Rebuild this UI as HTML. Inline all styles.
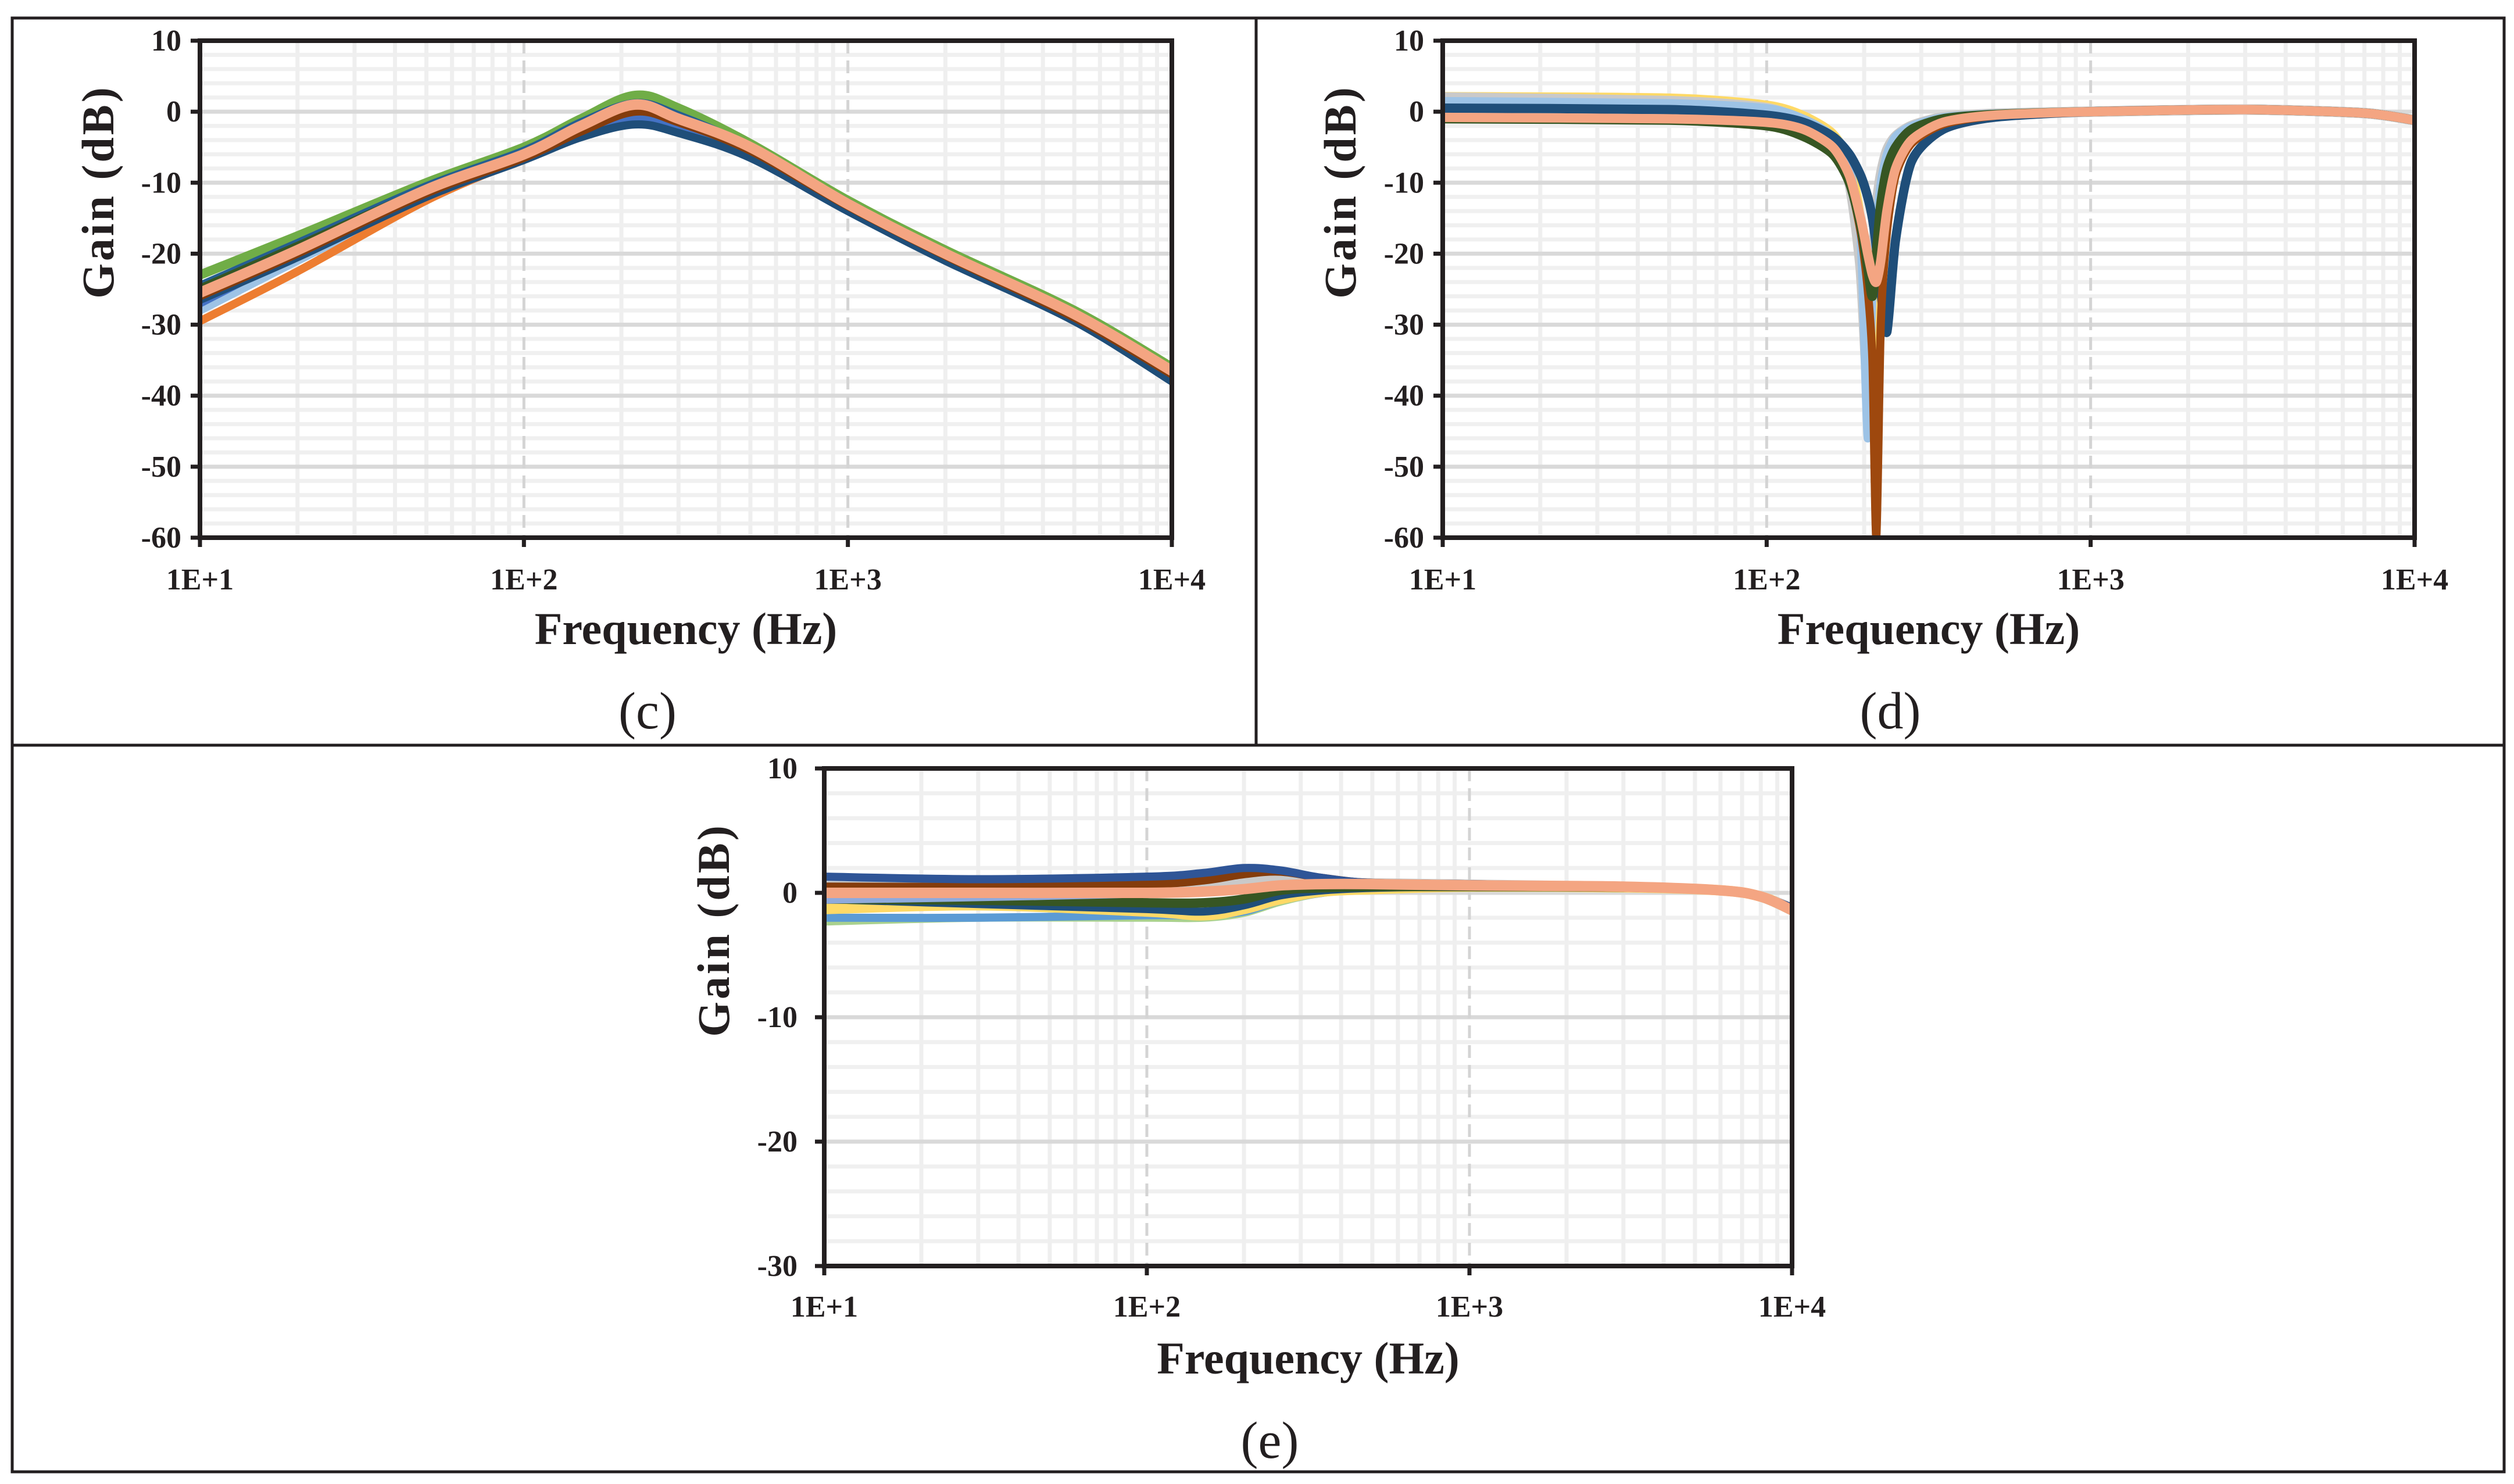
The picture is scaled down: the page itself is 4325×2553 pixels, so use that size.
<!DOCTYPE html>
<html><head><meta charset="utf-8">
<style>
html,body{margin:0;padding:0;background:#fff;}
svg{display:block;}
text{font-family:"Liberation Serif",serif;fill:#231f20;}
.tick{font-weight:bold;font-size:52px;}
.title{font-weight:bold;font-size:78px;}
.panel{font-size:90px;}
</style></head>
<body>
<svg id="fig" width="4325" height="2553" viewBox="0 0 4325 2553" xmlns="http://www.w3.org/2000/svg">
<g fill="none" stroke="#231f20" stroke-width="5">
<rect x="21" y="31" width="4287" height="2501"/>
<line x1="2161" y1="31" x2="2161" y2="1282"/>
<line x1="21" y1="1282" x2="4308" y2="1282"/>
</g>
</svg>
<script>
// ---- data: panel (c) ----
const fC = [10,20,50,100,150,220,300,500,1000,2000,5000,10000];
const cGreen  = [-23,-17.5,-10,-5,-1,2.3,0.5,-4.5,-12.5,-19.5,-28,-36];
const cNavy   = [-24.5,-18.5,-10.5,-5.5,-1.5,1.2,-0.5,-5,-12.8,-20,-28.5,-36.5];
const cBlue   = [-27,-20,-11.5,-6.3,-2.8,-0.8,-2,-5.8,-13.5,-20.5,-29,-37];
const cNavyLo = [-26.5,-20.5,-12,-6.8,-3.6,-1.8,-3,-6.5,-14,-21,-29.5,-38];
const cOrange = [-29.5,-22.5,-12.5,-6.5,-2.5,0.8,-1,-5.2,-13,-20,-28.7,-36.8];
const cLtBlue = [-28,-21,-12,-6.5,-3,0,-1.5,-5.5,-13.2,-20.2,-28.8,-37];
const cBrown  = [-26,-20,-11.5,-6.5,-2.8,0,-1.5,-5.5,-13.3,-20.3,-29,-37];
const cSalmon = [-25.5,-19.5,-11,-6,-2,1,-1,-5,-13,-20,-28.5,-36.5];
// ---- data: panel (d) ----
const fD = [10,50,100,130,160,180,195,205,212,218,225,235,250,280,350,500,1000,3000,7000,10000];
const dGray   = [2,1.5,0.5,-1.5,-5,-10,-22,-38,-22,-14,-9,-5.5,-3.5,-2,-0.8,-0.3,0,0.3,-0.2,-1.2];
const dYellow = [2.2,2,1,-0.5,-3,-7,-15,-30,-40,-22,-12,-7,-4,-2,-0.8,-0.3,0,0.3,-0.2,-1.2];
const dLtBlue = [1.5,1.2,0.5,-1,-3.5,-8,-18,-46,-25,-16,-10,-6,-3.5,-2,-0.8,-0.3,0,0.3,-0.2,-1.2];
const dNavy   = [0.5,0.3,-0.5,-1.5,-3.5,-6,-9,-12,-15,-19,-25,-31,-18,-7,-2.5,-0.8,0,0.3,-0.2,-1.2];
const dBrown  = [-1,-1.2,-2,-3,-6,-10,-17,-25,-35,-60,-30,-17,-9,-4.5,-1.8,-0.6,0,0.3,-0.2,-1.2];
const dGreen  = [-1,-1.2,-2,-3.5,-6,-10,-16,-22,-26,-20,-13,-8,-5,-2.5,-1,-0.4,0,0.3,-0.2,-1.2];
const dOrange = [-0.8,-1,-1.5,-2.5,-5,-9,-15,-20,-23,-24,-21,-14,-8,-4,-1.5,-0.5,0,0.3,-0.2,-1.2];
// ---- data: panel (e) ----
const fE = [10,30,100,150,200,260,350,500,1000,3000,6000,8000,10000];
const eGreenLt = [-2.3,-2,-2,-2,-1.6,-0.7,0,0.3,0.5,0.45,0.2,-0.4,-1.5];
const eBlue    = [-2,-2,-1.8,-1.8,-1.5,-0.6,0,0.3,0.5,0.45,0.2,-0.3,-1.3];
const eYellow  = [-1.3,-1,-1.5,-1.8,-1.3,-0.5,0.1,0.3,0.5,0.45,0.2,-0.3,-1.3];
const eNavy2   = [-0.5,-0.9,-1.3,-1.5,-1,-0.2,0.2,0.4,0.5,0.45,0.2,-0.3,-1.3];
const eGreen   = [-0.5,-0.6,-0.8,-0.8,-0.5,0.2,0.4,0.5,0.5,0.45,0.2,-0.3,-1.3];
const eLtBlue  = [-0.5,-0.3,0,0.3,0.8,1.2,0.9,0.7,0.6,0.5,0.2,-0.3,-1.2];
const eGray    = [0.8,0.7,0.7,0.8,1,1.1,0.9,0.8,0.7,0.5,0.2,-0.3,-1.2];
const eBrown   = [0.5,0.5,0.7,1,1.5,1.7,1.2,0.8,0.7,0.5,0.2,-0.3,-1.2];
const eNavy    = [1.3,1.1,1.3,1.6,2,1.8,1.2,0.8,0.7,0.5,0.2,-0.3,-1.2];
const eOrange  = [0,0,0,0.1,0.3,0.6,0.7,0.7,0.6,0.5,0.2,-0.3,-1.4];
const xTickLabels = ["1E+1","1E+2","1E+3","1E+4"];

const NS="http://www.w3.org/2000/svg";
const fig=document.getElementById('fig');
function mk(tag,attrs,parent){const e=document.createElementNS(NS,tag);for(const k in attrs)e.setAttribute(k,attrs[k]);(parent||fig).appendChild(e);return e;}

function panel(opt){
  const {L,R,T,B,ymin,ymax,series,f,label,name,yTitleX,yTitleY,ticksRight,xTitleY,panelY,tickY}=opt;
  const g=mk('g',{});
  
  
  const xs=v=>L+(Math.log10(v)-1)/3*(R-L);
  const ys=v=>B-(v-ymin)/(ymax-ymin)*(B-T);
  for(let v=ymin;v<=ymax;v+=2){ if(v%10!==0){const l=mk('line',{x1:L,x2:R,y1:ys(v),y2:ys(v),stroke:'#f0f0f0','stroke-width':7},g);
    
    }}
  for(let d=1;d<4;d++)for(let m=2;m<=9;m++){const x=xs(m*Math.pow(10,d));const l=mk('line',{x1:x,x2:x,y1:T,y2:B,stroke:'#efefef','stroke-width':7},g);
    
    }
  for(let v=ymin;v<=ymax;v+=10){const l=mk('line',{x1:L,x2:R,y1:ys(v),y2:ys(v),stroke:'#d9d9d9','stroke-width':7},g);
    
    }
  for(let d=2;d<=3;d++){const x=xs(Math.pow(10,d));const l=mk('line',{x1:x,x2:x,y1:T,y2:B,stroke:'#d4d4d4','stroke-width':5,'stroke-dasharray':'22 12'},g);
    
    }
  const clip='clip'+name;
  const cp=mk('clipPath',{id:clip},g);mk('rect',{x:L,y:T,width:R-L,height:B-T},cp);
  const sg=mk('g',{'clip-path':`url(#${clip})`},g);
  series.forEach((s,i)=>{
    const pts=f.map((v,k)=>[xs(v),ys(s.v[k])]);
    let d=`M${pts[0][0]},${pts[0][1]}`;
    for(let k=0;k<pts.length-1;k++){
      const p0=pts[Math.max(0,k-1)],p1=pts[k],p2=pts[k+1],p3=pts[Math.min(pts.length-1,k+2)];
      const t=opt.tension||6;
      d+=` C${p1[0]+(p2[0]-p0[0])/t},${p1[1]+(p2[1]-p0[1])/t} ${p2[0]-(p3[0]-p1[0])/t},${p2[1]-(p3[1]-p1[1])/t} ${p2[0]},${p2[1]}`;
    }
    const p=mk('path',{d:d,fill:'none',stroke:s.c,'stroke-width':s.w||14,'stroke-linejoin':'round','stroke-linecap':'round'},sg);
    
    
  });
  const fr=mk('rect',{x:L,y:T,width:R-L,height:B-T,fill:'none',stroke:'#231f20','stroke-width':8},g);
  
  
  for(let v=ymin;v<=ymax;v+=10){
    mk('line',{x1:L-16,x2:L,y1:ys(v),y2:ys(v),stroke:'#231f20','stroke-width':7},g);
    const t=mk('text',{x:ticksRight,y:ys(v)+17,'text-anchor':'end',class:'tick'},g);t.textContent=String(v);
    
    
  }
  for(let d=0;d<4;d++){
    const x=L+d/3*(R-L);
    mk('line',{x1:x,x2:x,y1:B,y2:B+16,stroke:'#231f20','stroke-width':7},g);
    const t=mk('text',{x:x,y:tickY,'text-anchor':'middle',class:'tick'},g);t.textContent=xTickLabels[d];
    
    
  }
  const xt=mk('text',{x:(L+R)/2,y:xTitleY,'text-anchor':'middle',class:'title'},g);xt.textContent='Frequency (Hz)';
  
  
  const yt=mk('text',{x:0,y:0,'text-anchor':'middle',class:'title',transform:`translate(${yTitleX},${yTitleY}) rotate(-90)`,'font-size':'68','letter-spacing':'4'},g);yt.textContent='Gain (dB)';
  
  
  const pl=mk('text',{x:(L+R)/2-66,y:panelY,'text-anchor':'middle',class:'panel'},g);pl.textContent=label;
  
  
}

panel({name:'panel-c',L:344,R:2016,T:70,B:925,ymin:-60,ymax:10,f:fC,label:'(c)',yTitleX:195,yTitleY:330,ticksRight:312,tickY:1014,xTitleY:1108,panelY:1253,
 series:[{c:'#70ad47',v:cGreen,w:16},{c:'#255e91',v:cNavy},{c:'#9dc3e6',v:cLtBlue},{c:'#4472c4',v:cBlue},{c:'#ed7d31',v:cOrange},{c:'#1f4e79',v:cNavyLo},{c:'#843c0c',v:cBrown},{c:'#375623',v:cNavy,w:5},{c:'#f4a582',v:cSalmon,w:18}]});
panel({name:'panel-d',L:2482,R:4154,T:70,B:925,ymin:-60,ymax:10,f:fD,label:'(d)',tension:8,yTitleX:2332,yTitleY:330,ticksRight:2450,tickY:1014,xTitleY:1108,panelY:1253,
 series:[{c:'#ffd966',v:dYellow},{c:'#c9c9c9',v:dGray,w:18},{c:'#9dc3e6',v:dLtBlue},{c:'#1f4e79',v:dNavy,w:16},{c:'#9e480e',v:dBrown},{c:'#375623',v:dGreen,w:16},{c:'#f4a582',v:dOrange,w:16}]});
panel({name:'panel-e',L:1418,R:3083,T:1322,B:2178,ymin:-30,ymax:10,f:fE,label:'(e)',yTitleX:1254,yTitleY:1600,ticksRight:1372,tickY:2265,xTitleY:2363,panelY:2508,
 series:[{c:'#a9d18e',v:eGreenLt},{c:'#5b9bd5',v:eBlue},{c:'#ffd966',v:eYellow,w:18},{c:'#1f4e79',v:eNavy2},{c:'#375623',v:eGreen,w:16},{c:'#8faadc',v:eLtBlue,w:16},{c:'#c9c9c9',v:eGray,w:16},{c:'#843c0c',v:eBrown},{c:'#2f5597',v:eNavy},{c:'#f4a582',v:eOrange,w:18}]});
</script>
</body></html>
